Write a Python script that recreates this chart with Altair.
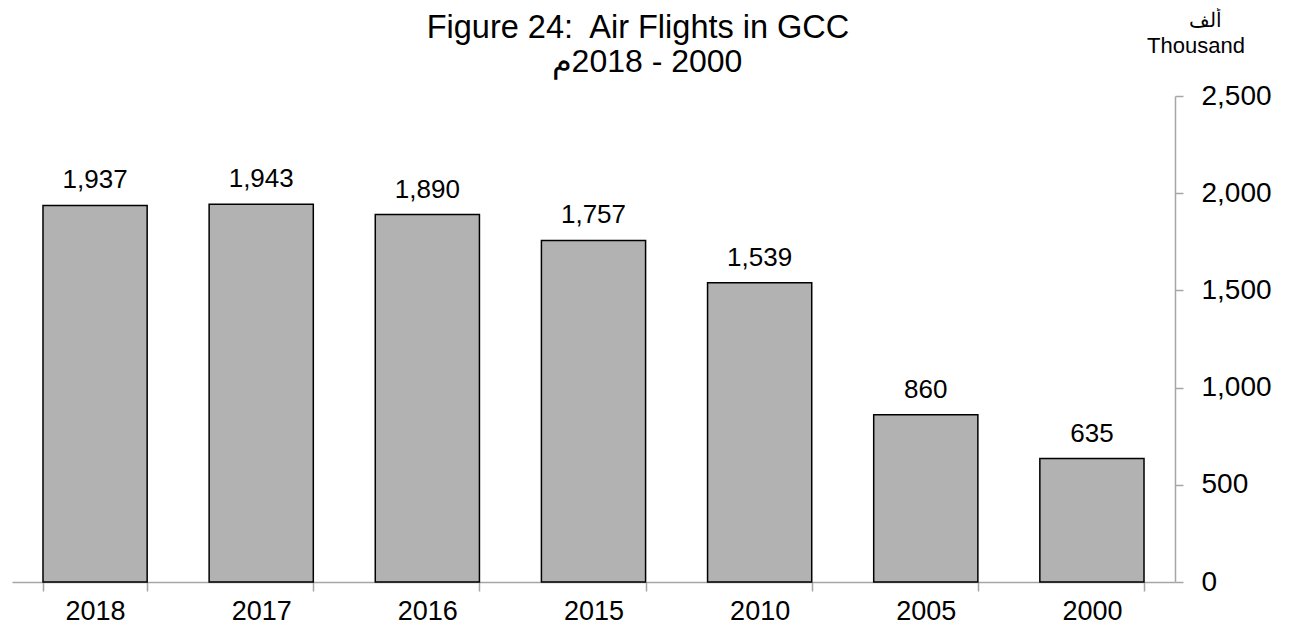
import altair as alt
import pandas as pd

years = ["2018", "2017", "2016", "2015", "2010", "2005", "2000"]
values = [1937, 1943, 1890, 1757, 1539, 860, 635]
y_ticks = [0, 500, 1000, 1500, 2000, 2500]

title_line1 = "Figure 24:\u00a0 Air Flights in GCC"
title_line2 = "\u202D" + "م2018 - 2000" + "\u202C"
unit_ar = "ألف"
unit_en = "Thousand"

df = pd.DataFrame({"year": years, "value": values})

FONT = "Liberation Sans"
GREY = "#a6a6a6"

x_enc = alt.X(
    "year:N",
    sort=years,
    scale=alt.Scale(paddingInner=0.373, paddingOuter=0.1865),
    axis=alt.Axis(
        title=None,
        orient="bottom",
        tickBand="extent",
        tickSize=9,
        tickColor=GREY,
        tickWidth=1.5,
        domainColor=GREY,
        domainWidth=1.5,
        labelFontSize=27,
        labelFont=FONT,
        labelColor="black",
        labelPadding=7,
        labelAngle=0,
    ),
)
y_enc = alt.Y(
    "value:Q",
    scale=alt.Scale(domain=[0, 2500], nice=False),
    axis=alt.Axis(
        title=None,
        orient="right",
        values=y_ticks,
        format=",.0f",
        tickSize=8,
        tickColor=GREY,
        tickWidth=1.5,
        domainColor=GREY,
        domainWidth=1.5,
        labelFontSize=28,
        labelFont=FONT,
        labelColor="black",
        labelPadding=18,
        grid=False,
    ),
)

bars = alt.Chart(df).mark_bar(
    color="#b2b2b2", stroke="black", strokeWidth=1.5
).encode(x=x_enc, y=y_enc)

labels = alt.Chart(df).mark_text(
    font=FONT, fontSize=26, color="black", baseline="alphabetic", dy=-17
).encode(
    x=alt.X("year:N", sort=years),
    y=alt.Y("value:Q"),
    text=alt.Text("value:Q", format=",.0f"),
)

def note(txt, x, y, size):
    return alt.Chart(pd.DataFrame({"t": [txt]})).mark_text(
        font=FONT, fontSize=size, color="black", align="center", baseline="alphabetic"
    ).encode(x=alt.value(x), y=alt.value(y), text="t:N")

t1 = note(title_line1, 626, -58, 32.5)
t2 = note(title_line2, 635, -24, 32)
u1 = note(unit_ar, 1193, -69, 20)
u2 = note(unit_en, 1184, -43, 22)

chart = alt.layer(bars, labels, t1, t2, u1, u2).properties(
    width=1163,
    height=486,
    autosize="none",
    padding={"left": 4, "top": 88, "right": 100, "bottom": 44},
).configure_view(stroke=None)

chart.save("out.html", embed_options={"renderer": "svg", "actions": False})
